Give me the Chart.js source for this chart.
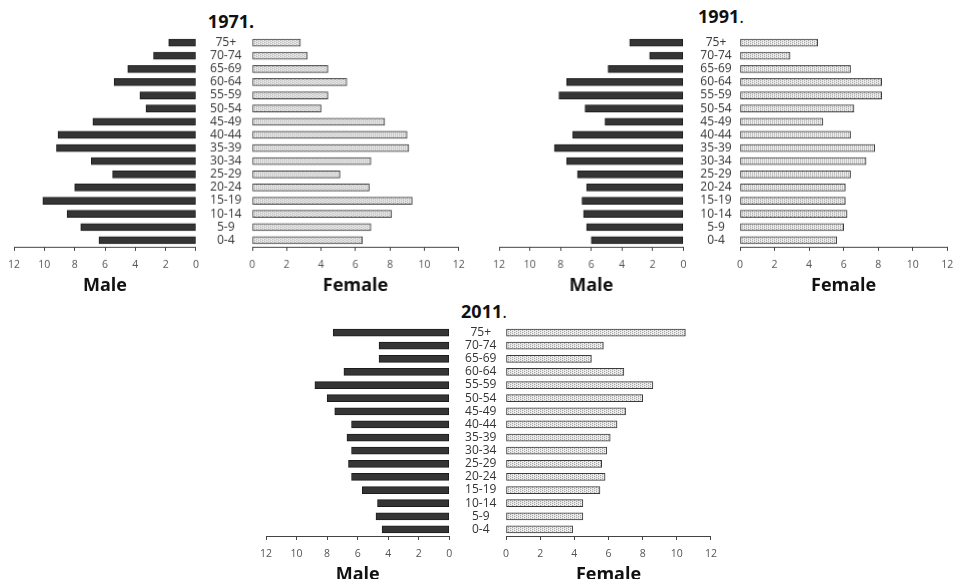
<!DOCTYPE html>
<html>
<head>
<meta charset="utf-8">
<script src="https://cdn.jsdelivr.net/npm/chart.js@4.4.0/dist/chart.umd.min.js"></script>
<style>
  html, body { margin: 0; padding: 0; background: #fff; overflow: hidden; }
  body { width: 958px; height: 579px; position: relative; font-family: "Open Sans", sans-serif; }
  .box { position: absolute; }
  .title { position: absolute; font-size: 18px; font-weight: bold; color: #111; line-height: 1;
           transform: translate(-50%, -50%); white-space: nowrap; }
  .title span { font-weight: normal; }
</style>
</head>
<body>
<div class="title" style="left:231px;top:21px">1971.</div>
<div class="title" style="left:721px;top:16px">1991<span>.</span></div>
<div class="title" style="left:484px;top:311px">2011<span>.</span></div>

<script>
// age groups, top to bottom as drawn
const ageGroups = ["75+", "70-74", "65-69", "60-64", "55-59", "50-54", "45-49", "40-44",
                   "35-39", "30-34", "25-29", "20-24", "15-19", "10-14", "5-9", "0-4"];

// % of population, same order as ageGroups
const male1971   = [1.8, 2.8, 4.5, 5.4, 3.7, 3.3, 6.8, 9.1, 9.2, 6.9, 5.5, 8.0, 10.1, 8.5, 7.6, 6.4];
const female1971 = [2.8, 3.2, 4.4, 5.5, 4.4, 4.0, 7.7, 9.0, 9.1, 6.9, 5.1, 6.8, 9.3, 8.1, 6.9, 6.4];
const male1991   = [3.5, 2.2, 4.9, 7.6, 8.1, 6.4, 5.1, 7.2, 8.4, 7.6, 6.9, 6.3, 6.6, 6.5, 6.3, 6.0];
const female1991 = [4.5, 2.9, 6.4, 8.2, 8.2, 6.6, 4.8, 6.4, 7.8, 7.3, 6.4, 6.1, 6.1, 6.2, 6.0, 5.6];
const male2011   = [7.6, 4.6, 4.6, 6.9, 8.8, 8.0, 7.5, 6.4, 6.7, 6.4, 6.6, 6.4, 5.7, 4.7, 4.8, 4.4];
const female2011 = [10.5, 5.7, 5.0, 6.9, 8.6, 8.0, 7.0, 6.5, 6.1, 5.9, 5.6, 5.8, 5.5, 4.5, 4.5, 3.9];

const axisMax = 12;
const axisStep = 2;
const maleTitle = "Male";
const femaleTitle = "Female";

const FONT = "'Open Sans', sans-serif";
const PAD_TOP = 4;
const AXIS_H = 49.5;
const LABEL_W = 56;

// dotted fill for the female bars
function dotPattern() {
  const c = document.createElement("canvas");
  c.width = 4; c.height = 2;
  const g = c.getContext("2d");
  g.fillStyle = "#e4e4e4"; g.fillRect(0, 0, 4, 2);
  g.fillStyle = "#a8a8a8"; g.fillRect(0, 0, 1, 1); g.fillRect(2, 1, 1, 1);
  g.fillStyle = "#f4f4f4"; g.fillRect(1, 1, 1, 1); g.fillRect(3, 0, 1, 1);
  return g.createPattern(c, "repeat");
}
const femaleFill = dotPattern();

// widest age label, to centre the labels between the two halves
const mctx = document.createElement("canvas").getContext("2d");
mctx.font = "12px " + FONT;
const widestLabel = Math.max(...ageGroups.map(s => mctx.measureText(s).width));

function makeHalf(side, values, g) {
  const male = side === "male";
  const L = male ? g.maleL : g.femL;
  const R = male ? g.maleR : g.femR;
  const padL = male ? 14 : 0;
  const padR = 8;
  const left = male ? L - padL : L - LABEL_W;
  const width = male ? (R - L) + padL + padR : LABEL_W + (R - L) + padR;
  const height = PAD_TOP + (g.bottom - g.top) + AXIS_H + 2;

  const box = document.createElement("div");
  box.className = "box";
  box.style.left = left + "px";
  box.style.top = (g.top - PAD_TOP) + "px";
  box.style.width = width + "px";
  box.style.height = height + "px";
  const cv = document.createElement("canvas");
  box.appendChild(cv);
  document.body.appendChild(box);

  return new Chart(cv.getContext("2d"), {
    type: "bar",
    data: {
      labels: ageGroups,
      datasets: [{
        data: values,
        backgroundColor: male ? "#353535" : femaleFill,
        borderColor: male ? "#1c1c1c" : "#3a3a3a",
        borderWidth: 1,
        borderSkipped: false,
        barThickness: 7
      }]
    },
    options: {
      indexAxis: "y",
      animation: false,
      responsive: true,
      maintainAspectRatio: false,
      layout: { padding: { left: padL, right: padR, top: PAD_TOP, bottom: 2 } },
      plugins: { legend: { display: false }, tooltip: { enabled: false } },
      scales: {
        x: {
          min: 0, max: axisMax, reverse: male,
          afterFit: s => { s.height = AXIS_H; },
          grid: { display: true, drawOnChartArea: false, drawTicks: true, tickLength: 4, color: "#444" },
          border: { display: true, color: "#444", width: 1 },
          ticks: { stepSize: axisStep, padding: 8, color: "#555", font: { size: 10.5, family: FONT } },
          title: { display: true, text: male ? maleTitle : femaleTitle, color: "#111",
                   padding: { top: 0, bottom: 0 }, font: { size: 18, weight: "bold", family: FONT } }
        },
        y: male ? { display: false } : {
          position: "left",
          afterFit: s => { s.width = LABEL_W; s.paddingTop = 0; s.paddingBottom = 0; },
          grid: { display: false, drawTicks: false },
          border: { display: false },
          ticks: { autoSkip: false, crossAlign: "center", padding: L - g.labelX - widestLabel / 2,
                   color: "#333", font: { size: 12, family: FONT } }
        }
      }
    }
  });
}

const panels = [
  { male: male1971, female: female1971,
    geo: { maleL: 14, maleR: 199, femL: 252.3, femR: 464, top: 36, bottom: 246, labelX: 226 } },
  { male: male1991, female: female1991,
    geo: { maleL: 499.3, maleR: 685.7, femL: 740, femR: 953.3, top: 36, bottom: 246, labelX: 716 } },
  { male: male2011, female: female2011,
    geo: { maleL: 266, maleR: 452.3, femL: 506.3, femR: 717.3, top: 325.5, bottom: 535.5, labelX: 481 } }
];

panels.forEach(p => {
  makeHalf("male", p.male, p.geo);
  makeHalf("female", p.female, p.geo);
});
</script>
</body>
</html>
